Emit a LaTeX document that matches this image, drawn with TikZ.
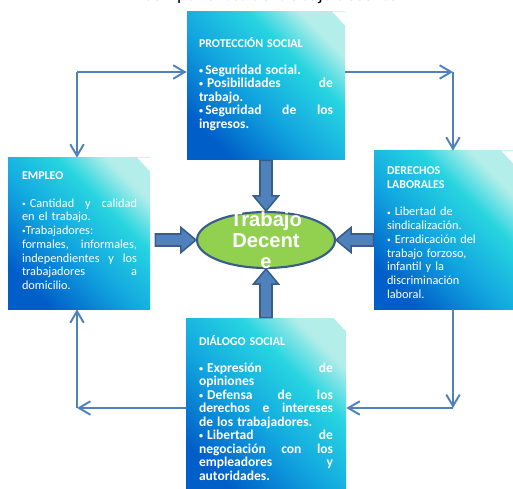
\documentclass[tikz,border=0pt]{standalone}
\usepackage{fontspec}
\usepackage{graphicx}
\setmainfont{Carlito}
\newfontfamily\arialfont{Liberation Sans}
\usetikzlibrary{positioning,arrows.meta,shapes.geometric,calc}
\definecolor{panelDark}{HTML}{005EC8}
\definecolor{panelMid}{HTML}{12A6E0}
\definecolor{panelCyan}{HTML}{27D4E0}
\definecolor{panelPale}{HTML}{B4EEEA}
\definecolor{linkBlue}{HTML}{4F81BD}
\definecolor{linkDark}{HTML}{385D8A}
\definecolor{coreGreen}{HTML}{92D050}
\pgfdeclarehorizontalshading{panelshade}{100bp}{color(0bp)=(panelDark); color(25bp)=(panelDark); color(45bp)=(panelMid); color(63bp)=(panelCyan); color(75bp)=(panelPale); color(100bp)=(panelPale)}
\newcommand\cardtitle{\fontsize{6.8}{7.7}\selectfont\bfseries}
\newcommand\cardbold{\fontsize{7.7}{7.7}\selectfont\bfseries}
\newcommand\mk{\raisebox{0.15ex}{\scalebox{0.6}{\textbullet}}}
% block arrow between two named points
\newcommand\fatarrow[2]{%
  \coordinate (fa-neck) at ($(#2)!0.30cm!(#1)$);
  \filldraw[fat] ($(#1)!0.12cm!90:(#2)$) -- ($(fa-neck)!0.12cm!-90:(#1)$)
    -- ($(fa-neck)!0.25cm!-90:(#1)$) -- (#2) -- ($(fa-neck)!0.25cm!90:(#1)$)
    -- ($(fa-neck)!0.12cm!90:(#1)$) -- ($(#1)!0.12cm!-90:(#2)$) -- cycle;}

\begin{document}
\begin{tikzpicture}[
  card/.style={shading=panelshade,shading angle=45,inner sep=0pt},
  cardtext/.style={anchor=north west,inner sep=0pt,text=white,align=left,
                   font=\fontsize{7}{7.8}\selectfont},
  core/.style={ellipse,draw=linkDark,line width=1.2pt,fill=coreGreen,
               minimum width=2.76cm,minimum height=1.12cm,inner sep=0pt},
  fat/.style={fill=linkBlue,draw=linkDark,line width=0.9pt,line join=miter},
  link/.style={draw=linkBlue,line width=1.1pt,-{Straight Barb[length=2.3mm,width=2.7mm]}}]
\useasboundingbox (0,0) rectangle (10.26,9.76);
\node[anchor=base,font=\fontsize{10.5}{12}\selectfont] (heading) at (5.40,9.74) {Componentes del trabajo decente};

% cards
\node[card,minimum width=3.16cm,minimum height=2.96cm] (prot) at (5.32,8.04) {};
\node[card,minimum width=2.84cm,minimum height=3.02cm] (emp) at (1.58,5.09) {};
\node[card,minimum width=2.80cm,minimum height=3.16cm] (der) at (8.88,5.16) {};
\node[card,minimum width=3.20cm,minimum height=3.50cm] (dia) at (5.32,1.65) {};
\foreach \c in {prot,emp,der,dia}
  \fill[white] ($(\c.north east)+(-0.26,0)$) -- (\c.north east) -- ($(\c.north east)+(0,-0.28)$) -- cycle;

\node[cardtext,text width=2.68cm] (protText) at ($(prot.north west)+(0.24,-0.50)$) {%
  {\cardtitle PROTECCIÓN SOCIAL}\\[7.7pt]
  {\cardbold\mk\,Seguridad social.\\
  \mk\ Posibilidades\hfill de\\
  trabajo.\\
  \mk\,Seguridad\hfill de\hfill los\\
  ingresos.}};
\node[cardtext,text width=2.30cm] (empText) at ($(emp.north west)+(0.28,-0.28)$) {%
  {\cardtitle EMPLEO}\\[7.8pt]
  \mk\ Cantidad\hfill y\hfill calidad\\
  en el trabajo.\\
  \mk Trabajadores:\\
  formales,\hfill informales,\\
  independientes\hfill y\hfill los\\
  trabajadores\hfill a\\
  domicilio.};
\node[cardtext,text width=2.10cm] (derText) at ($(der.north west)+(0.26,-0.32)$) {%
  {\cardtitle DERECHOS\\ LABORALES}\\[7.8pt]
  \mk\ Libertad de\\
  sindicalización.\\
  \mk\ Erradicación del\\
  trabajo forzoso,\\
  infantil y la\\
  discriminación\\
  laboral.};
\node[cardtext,text width=2.68cm] (diaText) at ($(dia.north west)+(0.26,-0.34)$) {%
  {\cardtitle DIÁLOGO SOCIAL}\\[7.7pt]
  {\cardbold\mk\ Expresión\hfill de\\
  opiniones\\
  \mk\ Defensa\hfill de\hfill los\\
  derechos\hfill e\hfill intereses\\
  de los trabajadores.\\
  \mk\ Libertad\hfill de\\
  negociación\hfill con\hfill los\\
  empleadores\hfill y\\
  autoridades.}};

% centre
\node[core] (core) at (5.32,4.96) {};
\node[align=center,text=white,inner sep=0pt,font=\arialfont\bfseries\fontsize{11.5}{12}\selectfont] (coreText) at (core) {Trabajo\\Decent\\e};

\coordinate (leftIn) at ($(emp.east |- core)+(0.10,0)$);
\coordinate (rightIn) at (der.west |- core);
\fatarrow{prot.south}{core.north}
\fatarrow{dia.north}{core.south}
\fatarrow{leftIn}{core.west}
\fatarrow{rightIn}{core.east}

% outer loop
\coordinate (tl) at (1.54,8.32);
\coordinate (tr) at (9.06,8.32);
\coordinate (br) at (9.06,1.60);
\coordinate (bl) at (1.54,1.60);
\draw[link] (tl) -- (tl -| prot.west);
\draw[link] (tl) -- (tl |- emp.north);
\draw[link] (tr -| prot.east) -- (tr);
\draw[link] (tr) -- (tr |- der.north);
\draw[link] (br |- der.south) -- (br);
\draw[link] (br) -- (br -| dia.east);
\draw[link] (bl -| dia.west) -- (bl);
\draw[link] (bl) -- (bl |- emp.south);
\end{tikzpicture}
\end{document}
